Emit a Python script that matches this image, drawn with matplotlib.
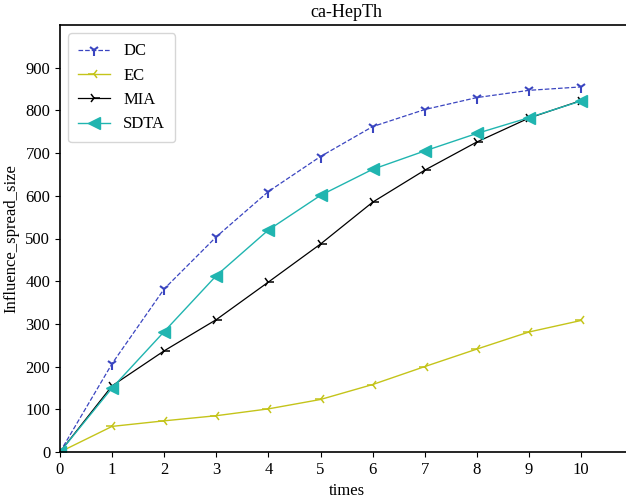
import numpy as np
import matplotlib
matplotlib.use("Agg")
import matplotlib.pyplot as plt

plt.rcParams['font.family'] = ['Liberation Serif', 'DejaVu Serif']

# data
times = [0, 1, 2, 3, 4, 5, 6, 7, 8, 9, 10]
dc = [0, 207, 382, 504, 610, 692, 762, 802, 830, 847, 855]
ec = [0, 60, 73, 85, 101, 123, 158, 200, 241, 281, 308]
mia = [0, 155, 237, 310, 398, 487, 585, 660, 726, 782, 823]
sdta = [0, 150, 282, 413, 520, 601, 662, 705, 746, 783, 822]

fig = plt.figure(figsize=(6.26, 5.03), dpi=100)
ax = fig.add_axes([60 / 626, 51 / 503, 11 * 52.1 / 626, 427 / 503])

ax.plot(times, dc, color='#3a45c0', linestyle='--', linewidth=0.9,
        marker='1', markersize=8, markeredgewidth=1.5, label='DC')
ax.plot(times, ec, color='#c4c41a', linewidth=1.0,
        marker='3', markersize=8, markeredgewidth=1.1, label='EC')
ax.plot(times, mia, color='black', linewidth=0.9,
        marker='4', markersize=8, markeredgewidth=1.1, label='MIA')
ax.plot(times, sdta, color='#20b5b0', linewidth=1.0,
        marker='<', markersize=9, label='SDTA')

ax.set_xlim(0, 11)
ax.set_ylim(0, 1000)
ax.set_xticks(times)
ax.set_yticks(np.arange(0, 1000, 100))
ax.tick_params(labelsize=12)
for s in ax.spines.values():
    s.set_linewidth(1.2)

ax.set_xlabel('times', fontsize=12)
ax.set_ylabel('Influence_spread_size', fontsize=12)
ax.set_title('ca-HepTh', fontsize=13)
ax.legend(loc='upper left', fontsize=12, handlelength=1.9, borderpad=0.6,
          labelspacing=0.5)

fig.savefig('out.png', dpi=100)
